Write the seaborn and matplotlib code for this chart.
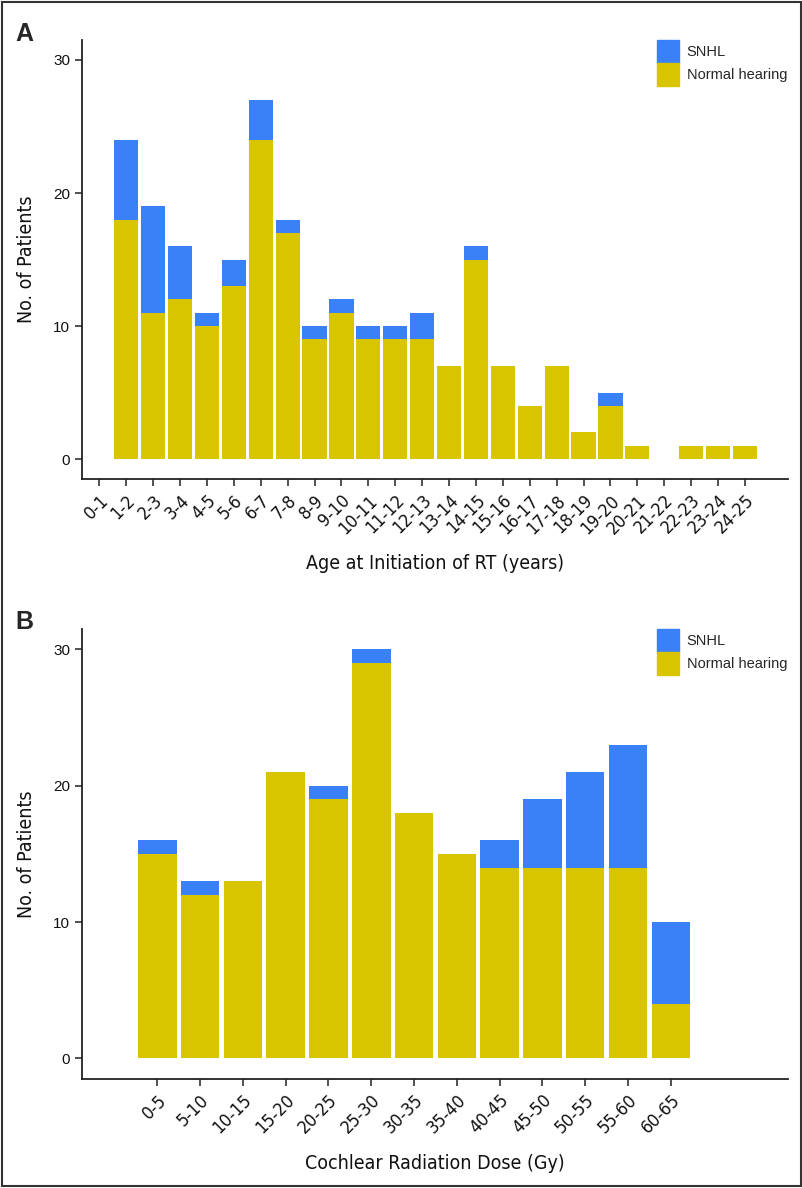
import matplotlib
matplotlib.use("Agg")
import matplotlib.pyplot as plt
import matplotlib.patches as mpatches
from matplotlib import font_manager
import seaborn as sns


# panel A: age at start of RT
age_bins = ["0-1", "1-2", "2-3", "3-4", "4-5", "5-6", "6-7", "7-8", "8-9", "9-10",
            "10-11", "11-12", "12-13", "13-14", "14-15", "15-16", "16-17", "17-18",
            "18-19", "19-20", "20-21", "21-22", "22-23", "23-24", "24-25"]
age_normal = [0, 18, 11, 12, 10, 13, 24, 17, 9, 11, 9, 9, 9, 7, 15, 7, 4, 7, 2, 4, 1, 0, 1, 1, 1]
age_snhl = [0, 6, 8, 4, 1, 2, 3, 1, 1, 1, 1, 1, 2, 0, 1, 0, 0, 0, 0, 1, 0, 0, 0, 0, 0]

# panel B: cochlear dose
dose_bins = ["0-5", "5-10", "10-15", "15-20", "20-25", "25-30", "30-35",
             "35-40", "40-45", "45-50", "50-55", "55-60", "60-65"]
dose_normal = [15, 12, 13, 21, 19, 29, 18, 15, 14, 14, 14, 14, 4]
dose_snhl = [1, 1, 0, 0, 1, 1, 0, 0, 2, 5, 7, 9, 6]

BLUE = "#3a80f6"
YELLOW = "#d9c400"

sns.set_theme(style="ticks")
plt.rcParams["font.family"] = ["Liberation Sans", "DejaVu Sans"]

# condensed face for axis labels if one is around
names = {f.name for f in font_manager.fontManager.ttflist}
narrow_kw = {"family": ["Liberation Sans"]}
if "Liberation Sans Narrow" in names:
    narrow_kw = {"family": ["Liberation Sans Narrow"]}
elif any(f.name == "DejaVu Sans" and f.stretch == "condensed" for f in font_manager.fontManager.ttflist):
    narrow_kw = {"family": ["DejaVu Sans"], "stretch": "condensed"}

fig = plt.figure(figsize=(8.03, 11.88), dpi=100)
axA = fig.add_axes([0.1027, 0.5968, 0.8786, 0.3695])
axB = fig.add_axes([0.1027, 0.0918, 0.8786, 0.3788])


def panel(ax, bins, normal, snhl, xlabel, xlim):
    total = [n + s for n, s in zip(normal, snhl)]
    sns.barplot(x=bins, y=total, order=bins, color=BLUE, saturation=1,
                width=0.9, linewidth=0, ax=ax)
    sns.barplot(x=bins, y=normal, order=bins, color=YELLOW, saturation=1,
                width=0.9, linewidth=0, ax=ax)
    ax.set_xlim(*xlim)
    ax.set_ylim(-1.5, 31.5)
    ax.set_yticks([0, 10, 20, 30])
    ax.tick_params(axis="both", length=5, width=1.1, color="#222222",
                   labelsize=11, labelcolor="#111111", pad=4)
    for s in ["left", "bottom"]:
        ax.spines[s].set_linewidth(1.3)
        ax.spines[s].set_color("#222222")
    sns.despine(ax=ax)
    for lab in ax.get_xticklabels():
        lab.set_rotation(45)
        lab.set_ha("right")
        lab.set_rotation_mode("anchor")
        lab.set_fontsize(13)
        lab.set_family(narrow_kw["family"])
        if "stretch" in narrow_kw:
            lab.set_stretch(narrow_kw["stretch"])
    ax.set_xlabel(xlabel, fontsize=14, color="#111111", labelpad=12, **narrow_kw)
    ax.set_ylabel("No. of Patients", fontsize=14, color="#111111", labelpad=12, **narrow_kw)
    handles = [mpatches.Patch(color=BLUE, label="SNHL"),
               mpatches.Patch(color=YELLOW, label="Normal hearing")]
    ax.legend(handles=handles, loc="upper left", bbox_to_anchor=(0.814, 1.0),
              frameon=False, fontsize=10.5, handlelength=1.55, handleheight=2.05,
              labelspacing=0, handletextpad=0.5, borderpad=0, borderaxespad=0)


panel(axA, age_bins, age_normal, age_snhl, "Age at Initiation of RT (years)", (-0.63, 25.6))
panel(axB, dose_bins, dose_normal, dose_snhl, "Cochlear Radiation Dose (Gy)", (-1.75, 14.74))

fig.text(15 / 803, 1 - 22 / 1188, "A", fontsize=18, fontweight="bold", va="top", ha="left")
fig.text(15 / 803, 1 - 610 / 1188, "B", fontsize=18, fontweight="bold", va="top", ha="left")

fig.patches.append(mpatches.Rectangle((0.003, 0.002), 0.994, 0.996, transform=fig.transFigure,
                                      fill=False, edgecolor="#333333", linewidth=1.5))

fig.savefig("out.png", dpi=100)
